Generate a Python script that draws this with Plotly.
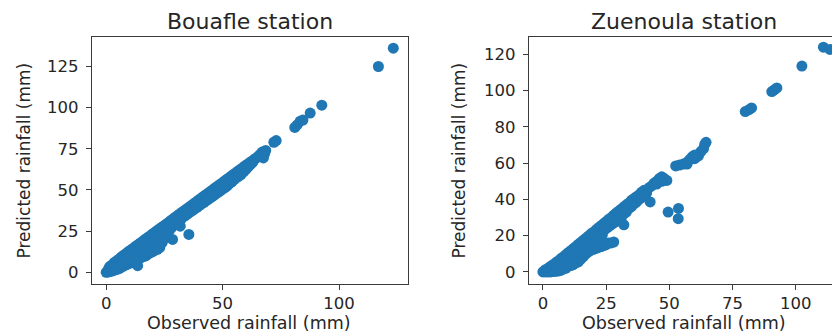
import plotly.graph_objects as go

# Bouafle station: observed vs predicted daily rainfall (mm)
bouafle_observed = [
    0, 0.5, 1, 1, 1.5, 2, 2, 2.5, 3, 3, 3.5, 4, 4, 4.5, 5, 5, 5.5, 6, 6, 6.5,
    7, 7, 7.5, 8, 8, 8.5, 9, 9, 9.5, 10, 10, 10.5, 11, 11, 11.5, 12, 12, 12.5,
    13, 13, 13.5, 13.5, 14, 14, 14.5, 15, 15, 15.5, 16, 16, 16.5, 17, 17, 17.5,
    18, 18, 18.5, 19, 19, 19.5, 20, 20, 20.5, 21, 21, 21.5, 22, 22, 22.5, 23,
    23, 23.5, 24, 24, 24.5, 25, 25, 25.5, 26, 26, 26.5, 27, 27, 27.5, 28, 28.5,
    28.5, 29, 29.5, 30, 30.5, 31, 31.8, 31.5, 32, 32.5, 33, 33.5, 34, 34.5, 35,
    35.5, 35.5, 36, 36.5, 37, 37.5, 38, 38.5, 39, 39.5, 40, 40.5, 41, 41.5, 42,
    42.5, 43, 43.5, 44, 44.5, 45, 45.5, 46, 46.5, 47, 47.5, 48, 48.5, 49, 49.5,
    50, 50.5, 51, 51.5, 52, 52.5, 53, 53.5, 54, 54.5, 55, 55.5, 56, 56.5, 57,
    57.5, 58, 58.5, 59, 59.5, 60, 60.5, 61, 61.5, 62, 62.5, 63, 63.5, 64, 65,
    66, 67, 67.5, 68, 68.5, 72, 73, 81, 82, 83.3, 84.5, 87.6, 92.6, 116.9, 123.3,
]
bouafle_predicted = [
    0, 0.3, 0.2, 2, 3.5, 0.5, 2.5, 4.5, 1, 3, 6, 1.5, 4.5, 7, 2, 5, 8, 2.5, 5.5, 9.3,
    3.5, 6.5, 10.4, 4.2, 7.5, 11.4, 4.8, 8.5, 12.5, 5.5, 9, 13.5, 6.2, 10, 14.5, 7, 11, 15.6,
    8, 12, 16.6, 4, 8.5, 13, 17.7, 9, 14, 18.7, 9.5, 15, 19.8, 10, 16, 20.8,
    11, 17, 21.8, 12, 18, 22.9, 12.5, 19, 23.9, 13.5, 20, 25, 14, 21, 26, 15,
    22, 27, 18, 23, 28, 20.5, 24.5, 29, 23, 26, 30, 25, 28, 31.2, 27, 20,
    32.2, 28.5, 33.3, 29.5, 34.3, 30, 28, 35.4, 32, 36.4, 33.5, 37.4, 34.5, 38.5, 35.5,
    23, 39.5, 36.5, 40.5, 37.5, 41.6, 38.5, 42.6, 39.5, 43.7, 40.5, 44.7, 41.5, 45.8, 42.5,
    46.8, 43.5, 47.8, 44.5, 48.9, 45.5, 49.9, 46.5, 51, 47.5, 52, 48.5, 53, 49.5, 54,
    50.5, 55.1, 51.5, 56.2, 52.5, 57.2, 54, 58.2, 55, 59.3, 56.5, 60.3, 57.5, 61.4, 58.5,
    62.4, 59.5, 63.4, 61, 64.5, 62.5, 65.5, 64, 66.5, 65.5, 67.5, 67, 68.5, 69, 70,
    71.5, 73, 69.5, 72, 74, 79, 80, 88, 89.5, 91.8, 92.5, 96.7, 101.5, 125, 136.1,
]

# Zuenoula station: observed vs predicted daily rainfall (mm)
zuenoula_observed = [
    0, 0.5, 1, 1, 1.5, 2, 2, 2.5, 3, 3, 3.5, 4, 4, 4.5, 5, 5, 5.5, 6, 6, 6.5,
    7, 7, 7.5, 8, 8, 8.5, 9, 9, 9.5, 10, 10, 10.5, 11, 11, 11.5, 12, 12, 12.5,
    13, 13, 13.5, 14, 14, 14.5, 15, 15, 15.5, 16, 16, 16.5, 17, 17, 17.5, 18,
    18, 18.5, 19, 19, 19.5, 20, 20, 20.5, 21, 21, 21.5, 22, 22, 22.5, 23, 23,
    23.5, 24, 24, 24.5, 25, 25, 25.5, 26, 26, 26.5, 27, 27, 27.5, 28, 28, 28.5,
    29, 29, 29.5, 30, 30, 31, 31, 32, 32, 32, 33, 33, 34, 34, 35, 35, 36, 36,
    37, 37, 38, 38, 39, 39, 40, 40, 41, 42.4, 42, 43, 44, 45, 46, 47, 48, 49,
    45, 47, 49.5, 53.6, 53.5, 52.5, 54, 55.5, 57, 58, 59, 60, 61.5, 62.5, 63.5,
    64, 64.5, 60, 57, 80, 81.5, 82.5, 90.5, 91.5, 92.5, 102.4, 110.9, 113.5,
]
zuenoula_predicted = [
    0, 0.5, 0, 1.2, 0.3, 0, 2, 0.5, 0, 3, 1, 0.2, 4, 1.5, 0.3, 5, 2, 0.5, 6, 3,
    0.8, 7.2, 4, 1.5, 8.2, 5, 2, 9.4, 6, 3, 10.6, 7, 3.5, 11.7, 8, 4, 12.9, 9,
    5, 14, 10, 5.5, 15.2, 11, 7, 16.3, 12, 8.5, 17.5, 13, 10, 18.6, 14, 11,
    19.8, 15, 12, 21, 16, 12.5, 22, 17, 13, 23.2, 18, 13.5, 24.4, 19.5, 14, 25.5,
    20.5, 14.5, 26.7, 23.5, 15, 27.8, 24.5, 16, 29, 25.5, 16, 30, 26.5, 16.5, 31.3, 27.5,
    28, 32.5, 29, 30, 33.6, 30, 34.7, 26, 32, 35.9, 33, 37, 35, 38, 36, 39.5, 37.5, 40.5,
    38.5, 41.5, 40, 42.5, 41, 44, 42, 45, 43.5, 38.6, 46.5, 47.5, 49, 50, 51.5, 52.5, 51.5, 50.5,
    48.5, 50, 33, 35, 29.4, 58.5, 59, 59.5, 60.5, 62, 63.5, 62.5, 64, 66.5, 68,
    70.5, 71.5, 64.5, 59.5, 88.5, 89.5, 90.5, 99.5, 100.5, 101.5, 113.6, 124, 122.8,
]

bouafle_xticks = [0, 50, 100]
bouafle_yticks = [0, 25, 50, 75, 100, 125]
zuenoula_xticks = [0, 25, 50, 75, 100]
zuenoula_yticks = [0, 20, 40, 60, 80, 100, 120]

W, H = 832, 334
BLUE = "#1f77b4"
INK = "#262626"
SPINE = "#3a3a3a"
FONT = "DejaVu Sans"


def px_x(p):
    return p / W


def px_y(p):
    return 1 - p / H


fig = go.Figure()
marker = dict(color=BLUE, size=11, line=dict(width=0))
fig.add_trace(go.Scatter(x=bouafle_observed, y=bouafle_predicted, mode="markers",
                         marker=marker, xaxis="x", yaxis="y", showlegend=False))
fig.add_trace(go.Scatter(x=zuenoula_observed, y=zuenoula_predicted, mode="markers",
                         marker=marker, xaxis="x2", yaxis="y2", showlegend=False))

axis_common = dict(
    showgrid=False, zeroline=False, showline=True, linecolor=SPINE, linewidth=1.3,
    ticks="outside", ticklen=5, tickwidth=1.3, tickcolor=SPINE,
    tickfont=dict(family=FONT, size=16.5, color=INK),
)

fig.update_layout(
    width=W, height=H,
    margin=dict(l=0, r=0, t=0, b=0),
    paper_bgcolor="white", plot_bgcolor="white",
    xaxis=dict(domain=[px_x(92), px_x(407.5)], range=[-6.1, 129.4], anchor="y",
               tickvals=bouafle_xticks, mirror=True, ticklabelstandoff=0, **axis_common),
    yaxis=dict(domain=[px_y(283.5), px_y(36.7)], range=[-6.8, 143.1], anchor="x",
               tickvals=bouafle_yticks, mirror=True, ticklabelstandoff=4, **axis_common),
    xaxis2=dict(domain=[px_x(529), 1.0], range=[-5.5, 114.3], anchor="y2",
                tickvals=zuenoula_xticks, mirror=True, ticklabelstandoff=0, **axis_common),
    yaxis2=dict(domain=[px_y(283.5), px_y(36.7)], range=[-6.4, 129.8], anchor="x2",
                tickvals=zuenoula_yticks, mirror=False, ticklabelstandoff=4, **axis_common),
)


def label(text, x, y, size, angle=0):
    fig.add_annotation(text=text, x=px_x(x), y=px_y(y), xref="paper", yref="paper",
                       xanchor="center", yanchor="middle", showarrow=False,
                       textangle=angle, font=dict(family=FONT, size=size, color=INK))


label("Bouafle station", 249.5, 21, 22)
label("Zuenoula station", 684, 21, 22)
label("Observed rainfall (mm)", 249, 322.5, 17.5)
label("Observed rainfall (mm)", 684, 322.5, 17.5)
label("Predicted rainfall (mm)", 23, 160.5, 17, -90)
label("Predicted rainfall (mm)", 458, 160.5, 17, -90)

fig.write_html("out.html")
